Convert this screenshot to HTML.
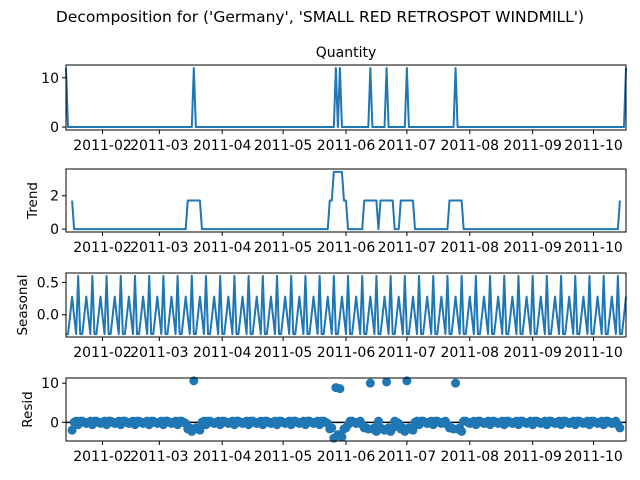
<!DOCTYPE html>
<html><head><meta charset="utf-8">
<style>
body{margin:0;background:#fff;}
svg{display:block;font-family:"DejaVu Sans","Liberation Sans",sans-serif;}
</style></head>
<body>
<svg id="fig" width="640" height="480" viewBox="0 0 640 480">
<text x="320" y="22" font-size="15.5" text-anchor="middle">Decomposition for ('Germany', 'SMALL RED RETROSPOT WINDMILL')</text>
<text x="346" y="57" font-size="14" text-anchor="middle">Quantity</text>
</svg>
<script>
// ---- data ----
const nDays = 277; // daily from 2011-01-14 to 2011-10-17
const spikeDays = [0, 63, 133, 135, 150, 158, 168, 192, 276];
const spikeValues = [12, 12, 12, 12, 12, 12, 12, 12, 12];
const seasonalPattern = [-0.3, -0.3, -0.02, 0.28, -0.02, -0.3, 0.6];
const monthTickLabels = ['2011-02','2011-03','2011-04','2011-05','2011-06','2011-07','2011-08','2011-09','2011-10'];
const monthTickDays = [18, 46, 77, 107, 138, 168, 199, 230, 260];
const obsTicks = [0, 10];
const trendTicks = [0, 2];
const seasonalTicks = [0.0, 0.5];
const residTicks = [0, 10];

// ---- derived series ----
const observed = new Array(nDays).fill(0);
spikeDays.forEach((d,i)=>{ observed[d] = spikeValues[i]; });
const trend = observed.map((v,t)=>{
  if (t < 3 || t > nDays-4) return null;
  let s = 0; for (let k=-3;k<=3;k++) s += observed[t+k]; return s/7;
});
const seasonal = observed.map((v,t)=>seasonalPattern[t%7]);
const resid = observed.map((v,t)=> trend[t]===null ? null : v - trend[t] - seasonal[t]);

const NS = 'http://www.w3.org/2000/svg';
const svg = document.getElementById('fig');
const X0 = 66, X1 = 626;
const xs = d => X0 + d*(X1-X0)/(nDays-1);
function el(tag, attrs, parent){ const e=document.createElementNS(NS,tag); for(const k in attrs) e.setAttribute(k,attrs[k]); (parent||svg).appendChild(e); return e; }
function fmt(v, dec){ return dec ? v.toFixed(1) : String(v); }

const panels = [
  {name:'observed', data:observed, top:65, bot:130, ticks:obsTicks, label:null, dec:false, type:'line'},
  {name:'trend', data:trend, top:169, bot:232, ticks:trendTicks, label:'Trend', dec:false, type:'line'},
  {name:'seasonal', data:seasonal, top:273, bot:337, ticks:seasonalTicks, label:'Seasonal', dec:true, type:'line'},
  {name:'resid', data:resid, top:378, bot:441, ticks:residTicks, label:'Resid', dec:false, type:'scatter'}
];

panels.forEach(p=>{
  const vals = p.data.filter(v=>v!==null);
  let mn = Math.min(...vals), mx = Math.max(...vals);
  const pad = (mx-mn)*0.05; mn -= pad; mx += pad;
  const ys = v => p.bot - (v-mn)/(mx-mn)*(p.bot-p.top);
  const g = el('g',{});
  
  
  if (p.type==='line'){
    let d='', pen=false;
    p.data.forEach((v,t)=>{ if(v===null){pen=false;return;} d += (pen?'L':'M')+xs(t).toFixed(2)+','+ys(v).toFixed(2); pen=true; });
    const path = el('path',{d:d, fill:'none', stroke:'#1f77b4', 'stroke-width':2, 'stroke-linejoin':'round'}, g);
    
    
  } else {
    const zl = el('line',{x1:X0,x2:X1,y1:ys(0),y2:ys(0),stroke:'#000','stroke-width':1.5}, g);
    
    
    p.data.forEach((v,t)=>{ if(v===null) return;
      const c = el('circle',{cx:xs(t),cy:ys(v),r:4.5,fill:'#1f77b4'}, g);
      
      
    });
  }
  const frame = el('rect',{x:X0,y:p.top,width:X1-X0,height:p.bot-p.top,fill:'none',stroke:'#000','stroke-width':1}, g);
  
  
  p.ticks.forEach(tv=>{
    const y = ys(tv);
    el('line',{x1:X0-4,x2:X0,y1:y,y2:y,stroke:'#000','stroke-width':1}, g);
    const t = el('text',{x:X0-7,y:y+5,'font-size':14,'text-anchor':'end'}, g);
    t.textContent = fmt(tv,p.dec);
    
    
  });
  monthTickDays.forEach((d,i)=>{
    const x = xs(d);
    el('line',{x1:x,x2:x,y1:p.bot,y2:p.bot+4,stroke:'#000','stroke-width':1}, g);
    const t = el('text',{x:x,y:p.bot+20,'font-size':14,'text-anchor':'middle'}, g);
    t.textContent = monthTickLabels[i];
    
    
  });
  if (p.label){
    const cy = (p.top+p.bot)/2;
    const lx = p.dec ? 27 : (p.name==='resid' ? 32 : 37);
    const t = el('text',{x:lx,y:cy,'font-size':13.5,'text-anchor':'middle',transform:'rotate(-90 '+lx+' '+cy+')'}, g);
    t.textContent = p.label;
    
    
  }
});
</script>
</body></html>
